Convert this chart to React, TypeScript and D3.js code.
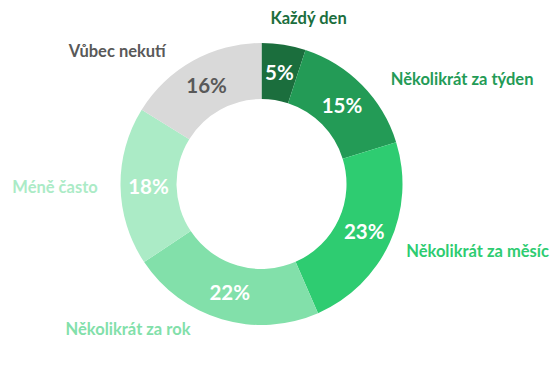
import React from "react";
import * as d3 from "d3";

const categories = ["Každý den", "Několikrát za týden", "Několikrát za měsíc", "Několikrát za rok", "Méně často", "Vůbec nekutí"];
const values = [5, 15, 23, 22, 18, 16];
const sliceColors = ["#1b6e3d", "#239b56", "#2ecc71", "#82e0aa", "#abebc6", "#d9d9d9"];
const labelColors = ["#1b6e3d", "#239b56", "#2ecc71", "#82e0aa", "#abebc6", "#595959"];
const pctColors = ["#ffffff", "#ffffff", "#ffffff", "#ffffff", "#ffffff", "#595959"];
// layout nudges for category labels (relative to point outside arc)
const labelNudge: [number, number][] = [[21, 3], [83, 17], [66, 4], [-87, -7], [-41.5, 6], [-64, 17]];

const W = 555, H = 379;
const cx = 261.5, cy = 184, outerR = 141, innerR = 85;
const font = "Lato, 'Open Sans', sans-serif";

export default function App() {
  const pie = d3.pie<number>().sort(null).value((d) => d)(values);
  const arc = d3.arc<d3.PieArcDatum<number>>().innerRadius(innerR).outerRadius(outerR);
  const outArc = d3.arc<d3.PieArcDatum<number>>().innerRadius(165).outerRadius(165);
  return (
    <svg width={W} height={H} style={{ position: "absolute", left: 0, top: 0, background: "#fff" }}>
      <g transform={`translate(${cx},${cy})`}>
        {pie.map((p, i) => (
          <path key={i} d={arc(p) || ""} fill={sliceColors[i]} />
        ))}
        {pie.map((p, i) => {
          const [x, y] = arc.centroid(p);
          return (
            <text key={"p" + i} x={x} y={y} textAnchor="middle" dominantBaseline="central"
              fill={pctColors[i]} fontFamily={font} fontWeight="bold" fontSize={20.5}>
              {values[i]}%
            </text>
          );
        })}
        {pie.map((p, i) => {
          const [x, y] = outArc.centroid(p);
          return (
            <text key={"l" + i} x={x + labelNudge[i][0]} y={y + labelNudge[i][1]} textAnchor="middle"
              fill={labelColors[i]} fontFamily={font} fontWeight="bold" fontSize={16.5}>
              {categories[i]}
            </text>
          );
        })}
      </g>
    </svg>
  );
}
